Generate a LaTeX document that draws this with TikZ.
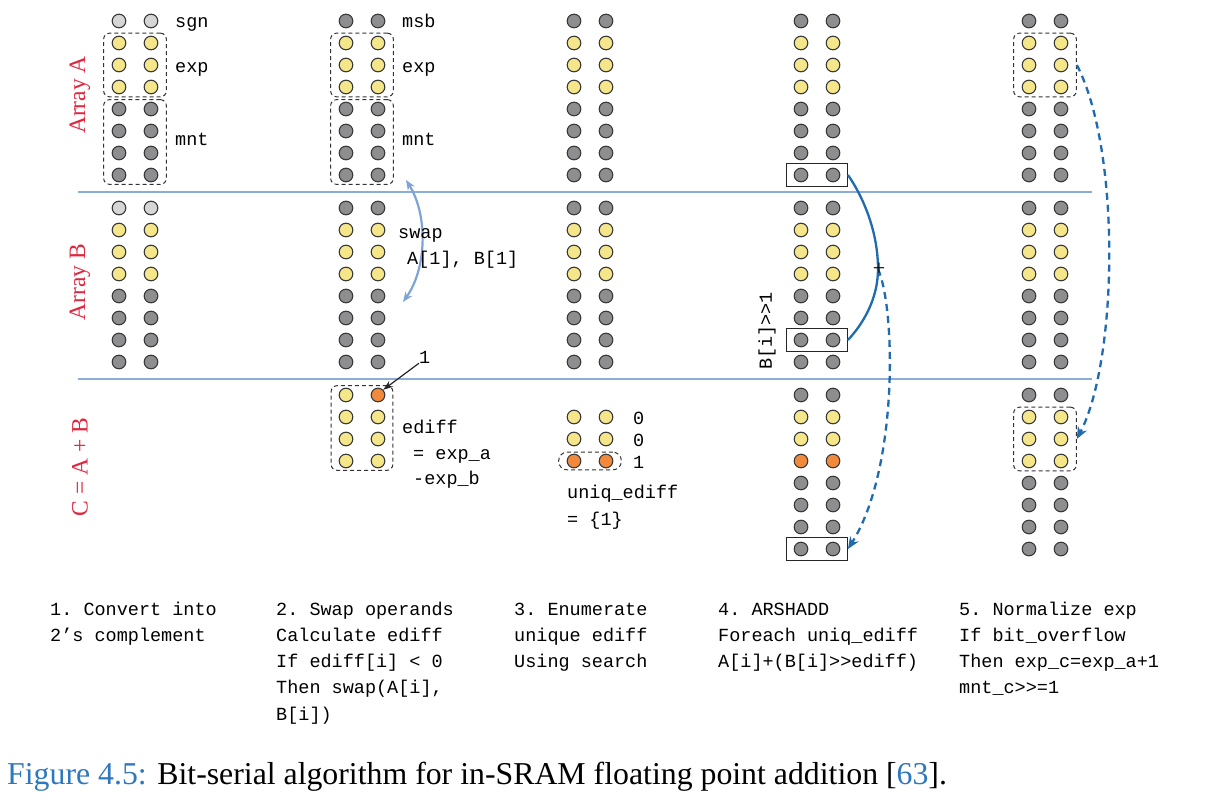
\documentclass[tikz,border=0pt]{standalone}
\usepackage{fontspec}
\setmainfont{Liberation Serif}
\setmonofont{Liberation Mono}
\usetikzlibrary{arrows.meta,fit}
\definecolor{bitgray}{HTML}{8E8E90}
\definecolor{bitlight}{HTML}{D6D6D6}
\definecolor{bityel}{HTML}{F5E68A}
\definecolor{bitora}{HTML}{F28A3D}
\definecolor{bitedge}{HTML}{3A3A3A}
\definecolor{sepblue}{HTML}{8AAED8}
\definecolor{swapblue}{HTML}{7DA4D6}
\definecolor{flowblue}{HTML}{1F6BAE}
\definecolor{capblue}{HTML}{2F78BE}
\definecolor{rowred}{HTML}{E2243C}
\tikzset{
  bit/.style={circle, draw=bitedge, line width=1.1pt, minimum size=13.6pt, inner sep=0pt},
  dbox/.style={draw=black!80, dash pattern=on 4pt off 3pt, line width=1pt, rounded corners=6pt, inner xsep=8pt, inner ysep=2.5pt},
  sbox/.style={draw=black!85, line width=1.2pt, inner xsep=7pt, inner ysep=4pt},
  lbl/.style={font=\fontsize{18.5}{20}\ttfamily, anchor=base west, inner sep=0pt},
  rowlbl/.style={font=\fontsize{23.5}{25}\selectfont, text=rowred, rotate=90, inner sep=0pt},
  sepline/.style={draw=sepblue, line width=1.4pt},
  flow/.style={draw=flowblue, line width=2.3pt},
  flowdash/.style={draw=flowblue, line width=2.3pt, dash pattern=on 7pt off 5pt, -{Stealth[length=12pt,width=10pt]}},
}
\def\stdA{bitgray/bitgray, bityel/bityel, bityel/bityel, bityel/bityel, bitgray/bitgray, bitgray/bitgray, bitgray/bitgray, bitgray/bitgray}
\def\sgnA{bitlight/bitlight, bityel/bityel, bityel/bityel, bityel/bityel, bitgray/bitgray, bitgray/bitgray, bitgray/bitgray, bitgray/bitgray}
\def\ediffC{bityel/bitora, bityel/bityel, bityel/bityel, bityel/bityel}
\def\uniqC{bityel/bityel, bityel/bityel, bitora/bitora}
\def\shiftC{bitgray/bitgray, bityel/bityel, bityel/bityel, bitora/bitora, bitgray/bitgray, bitgray/bitgray, bitgray/bitgray, bitgray/bitgray}
\newcommand{\bitstack}[4]{%
  \foreach \cl/\cr [count=\i from 0] in #4 {
    \node[bit, fill=\cl] (#1-\i-l) at (#2, #3+22*\i) {};
    \node[bit, fill=\cr] (#1-\i-r) at (#2+32, #3+22*\i) {};
  }}
\begin{document}
\begin{tikzpicture}[x=1pt, y=-1pt]
\useasboundingbox[fill=white] (0,0) rectangle (1220,806);
% separators
\draw[sepline] (78,192) -- (1092,192);
\draw[sepline] (78,379) -- (1092,379);
% row labels
\node[rowlbl] (rA) at (80,95) {Array A};
\node[rowlbl] (rB) at (80,282) {Array B};
\node[rowlbl] (rC) at (80,467) {C = A + B};
% column 1
\bitstack{c1A}{119}{21}{\sgnA}
\bitstack{c1B}{119}{208}{\sgnA}
\node[dbox, fit=(c1A-1-l)(c1A-3-r)] (c1exp) {};
\node[dbox, inner ysep=2pt, fit=(c1A-4-l)(c1A-7-r)] (c1mnt) {};
\node[lbl] (c1sgnl) at (175,27) {sgn};
\node[lbl] (c1expl) at (175,72) {exp};
\node[lbl] (c1mntl) at (175,145) {mnt};
% column 2
\bitstack{c2A}{346}{21}{\stdA}
\bitstack{c2B}{346}{208}{\stdA}
\bitstack{c2C}{346}{395}{\ediffC}
\node[dbox, fit=(c2A-1-l)(c2A-3-r)] (c2exp) {};
\node[dbox, inner ysep=2pt, fit=(c2A-4-l)(c2A-7-r)] (c2mnt) {};
\node[dbox, inner xsep=7.5pt, inner ysep=2pt, fit=(c2C-0-l)(c2C-3-r)] (c2ed) {};
\node[lbl] (c2msbl) at (402,27) {msb};
\node[lbl] (c2expl) at (402,72) {exp};
\node[lbl] (c2mntl) at (402,145) {mnt};
\coordinate (swtop) at (406,180);
\coordinate (swbot) at (403,302);
\draw[draw=swapblue, line width=2.2pt, {Stealth[length=10pt,width=8pt]}-{Stealth[length=10pt,width=8pt]}]
  (swtop) .. controls (428,215) and (427,268) .. (swbot);
\node[lbl] (swl1) at (398,238) {swap};
\node[lbl] (swl2) at (407,264) {A[1], B[1]};
\node[lbl] (one) at (419,363) {1};
\draw[-{Stealth[length=10pt,width=7pt]}, line width=1.2pt, black!85] (one.south west) -- (c2C-0-r.north east);
\node[lbl] (edl1) at (402,433) {ediff};
\node[lbl] (edl2) at (413,459) {= exp\_a};
\node[lbl] (edl3) at (413,484) {-exp\_b};
% column 3
\bitstack{c3A}{574}{21}{\stdA}
\bitstack{c3B}{574}{208}{\stdA}
\bitstack{c3C}{574}{417}{\uniqC}
\node[dbox, rounded corners=8.5pt, inner ysep=1.5pt, fit=(c3C-2-l)(c3C-2-r)] (c3pill) {};
\node[lbl] (z0) at (633,424) {0};
\node[lbl] (z1) at (633,446) {0};
\node[lbl] (z2) at (633,468) {1};
\node[lbl] (uq1) at (567,498) {uniq\_ediff};
\node[lbl] (uq2) at (567,525) {= \{1\}};
% column 4
\bitstack{c4A}{801}{21}{\stdA}
\bitstack{c4B}{801}{208}{\stdA}
\bitstack{c4C}{801}{395}{\shiftC}
\node[sbox, fit=(c4A-7-l)(c4A-7-r)] (c4Abox) {};
\node[sbox, fit=(c4B-6-l)(c4B-6-r)] (c4Bbox) {};
\node[sbox, fit=(c4C-7-l)(c4C-7-r)] (c4Cbox) {};
\node[lbl, anchor=center, rotate=90] (shl) at (767,331) {B[i]>>1};
\coordinate (plusc) at (878,269);
\draw[flow] (c4Abox.east) .. controls (862,195) and (878,230) .. (plusc)
  .. controls (878,300) and (862,325) .. (c4Bbox.east);
\draw[flowdash] (plusc) .. controls (896,310) and (898,470) .. (c4Cbox.east);
\node[inner sep=0pt, font=\fontsize{22}{22}\selectfont] (plus) at (879,269) {+};
% column 5
\bitstack{c5A}{1029}{21}{\stdA}
\bitstack{c5B}{1029}{208}{\stdA}
\bitstack{c5C}{1029}{395}{\stdA}
\node[dbox, fit=(c5A-1-l)(c5A-3-r)] (c5exp) {};
\node[dbox, fit=(c5C-1-l)(c5C-3-r)] (c5cexp) {};
\draw[flowdash] (c5exp.east) .. controls (1121,150) and (1118,360) .. (c5cexp.east);
% step descriptions
\foreach \t [count=\i from 0] in {1. Convert into, 2’s complement}
  \node[lbl] (s1-\i) at (50,615+26.3*\i) {\t};
\foreach \t [count=\i from 0] in {2. Swap operands, Calculate ediff, If ediff[i] < 0, {Then swap(A[i],}, B[i])}
  \node[lbl] (s2-\i) at (276,615+26.3*\i) {\t};
\foreach \t [count=\i from 0] in {3. Enumerate, unique ediff, Using search}
  \node[lbl] (s3-\i) at (514,615+26.3*\i) {\t};
\foreach \t [count=\i from 0] in {4. ARSHADD, Foreach uniq\_ediff, A[i]+(B[i]>>ediff)}
  \node[lbl] (s4-\i) at (718,615+26.3*\i) {\t};
\foreach \t [count=\i from 0] in {5. Normalize exp, If bit\_overflow, Then exp\_c=exp\_a+1, mnt\_c>>=1}
  \node[lbl] (s5-\i) at (959,615+26.3*\i) {\t};
% caption
\node[anchor=base west, inner sep=0pt, font=\fontsize{31.8}{33}\selectfont] (cap) at (7,784)
  {\textcolor{capblue}{Figure 4.5:} Bit-serial algorithm for in-SRAM floating point addition [\textcolor{capblue}{63}].};
\end{tikzpicture}
\end{document}
